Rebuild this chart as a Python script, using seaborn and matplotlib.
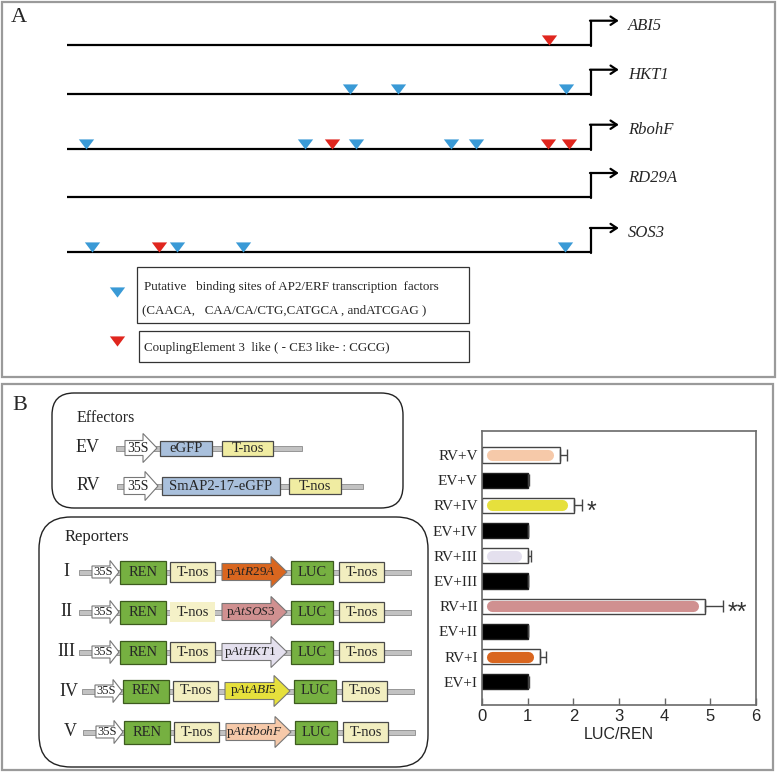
import matplotlib
matplotlib.use("Agg")

import matplotlib.pyplot as plt
from matplotlib.patches import Rectangle, FancyBboxPatch, Polygon
import numpy as np
import pandas as pd
import seaborn as sns

sns.set_style("white")
plt.rcParams["font.family"] = ["Liberation Serif", "DejaVu Serif"]
plt.rcParams["mathtext.fontset"] = "custom"
plt.rcParams["mathtext.rm"] = "Liberation Serif"
plt.rcParams["mathtext.it"] = "Liberation Serif:italic"

# --------------------------------------------------------------------------- #
# Data
# --------------------------------------------------------------------------- #
GENES = ["ABI5", "HKT1", "RbohF", "RD29A", "SOS3"]
# site positions along each promoter, as fraction of the drawn length (TSS = 1)
AP2_SITES = [[], [0.54, 0.632, 0.952], [0.036, 0.454, 0.552, 0.733, 0.78],
             [], [0.047, 0.21, 0.336, 0.95]]
CE3_SITES = [[0.92], [], [0.506, 0.918, 0.958], [], [0.175]]

EFFECTORS = ["EV", "RV"]
EFFECTOR_CDS = ["eGFP", "SmAP2-17-eGFP"]
REPORTERS = ["I", "II", "III", "IV", "V"]
REPORTER_PROMOTERS = ["AtR29A", "AtSOS3", "AtHKT1", "AtABI5", "AtRbohF"]
PROMOTER_COLORS = ["#d9661f", "#d09090", "#e4e0ee", "#e6e03c", "#f6c9a9"]

GROUPS = ["RV+V", "EV+V", "RV+IV", "EV+IV", "RV+III", "EV+III",
          "RV+II", "EV+II", "RV+I", "EV+I"]
LUC_REN = [1.70, 1.0, 2.02, 1.0, 1.0, 1.0, 4.88, 1.0, 1.26, 1.0]
LUC_REN_SD = [0.16, 0.03, 0.16, 0.0, 0.07, 0.0, 0.40, 0.0, 0.15, 0.03]
SIGNIF = ["", "", "*", "", "", "", "**", "", "", ""]

BLUE = "#3a9ad6"
RED = "#e0261e"
GREEN = "#76b041"
TNOS = "#f2eec0"
FRAME = "#9a9a9a"
TRI = [(-1.5, 1), (1.5, 1), (0, -1)]

W, H = 777, 773
fig = plt.figure(figsize=(W / 100, H / 100), dpi=100)

# overlay axes in pixel units for the layout
ov = fig.add_axes([0, 0, 1, 1])
ov.set_xlim(0, W)
ov.set_ylim(H, 0)
ov.axis("off")

ov.add_patch(Rectangle((2, 2), 773, 375, fill=False, ec=FRAME, lw=1.6))
ov.add_patch(Rectangle((2, 384), 771, 386, fill=False, ec=FRAME, lw=1.6))
ov.text(19, 17, "A", fontsize=16, ha="center", va="center")
ov.text(20, 405, "B", fontsize=16, ha="center", va="center")

# --------------------------------------------------------------------------- #
# Panel A: promoter maps
# --------------------------------------------------------------------------- #
axA = fig.add_axes([0, 1 - 377 / H, 1, 377 / H])
axA.set_xlim(-67 / 524, 710 / 524)
axA.set_ylim(377, 0)
axA.axis("off")
ROW_Y = [44.7, 93.7, 148.7, 197, 252]

for gene, y, ap2, ce3 in zip(GENES, ROW_Y, AP2_SITES, CE3_SITES):
    axA.plot([0, 1], [y, y], color="black", lw=1.6, solid_capstyle="butt")
    axA.plot([1, 1], [y + 0.8, y - 24], color="black", lw=1.6)
    axA.annotate("", xy=(1.053, y - 24), xytext=(0.998, y - 24),
                 arrowprops=dict(arrowstyle="->,head_length=0.45,head_width=0.3",
                                 lw=1.6, color="black", shrinkA=0, shrinkB=0))
    axA.text(1.07, y - 19, gene, fontstyle="italic", fontsize=12, va="center")
    if ap2:
        axA.scatter(ap2, [y - 5] * len(ap2), marker=TRI, s=11 ** 2,
                    color=BLUE, linewidths=0, zorder=3)
    if ce3:
        axA.scatter(ce3, [y - 5] * len(ce3), marker=TRI, s=11 ** 2,
                    color=RED, linewidths=0, zorder=3)

# legend boxes
ov.add_patch(Rectangle((137, 267), 332, 56, fill=False, ec="#333", lw=0.9))
ov.add_patch(Rectangle((139, 331), 330, 31, fill=False, ec="#333", lw=0.9))
ov.scatter([117], [292], marker=TRI, s=11 ** 2, color=BLUE, linewidths=0)
ov.scatter([117], [341], marker=TRI, s=11 ** 2, color=RED, linewidths=0)
ov.text(144, 287, "Putative   binding sites of AP2/ERF transcription  factors",
        fontsize=9.4, va="center")
ov.text(142, 310, "(CAACA,   CAA/CA/CTG,CATGCA , andATCGAG )",
        fontsize=9.4, va="center")
ov.text(144, 348, "CouplingElement 3  like ( - CE3 like- : CGCG)",
        fontsize=9.4, va="center")


# --------------------------------------------------------------------------- #
# Panel B: constructs
# --------------------------------------------------------------------------- #
def backbone(x0, x1, y, h=5):
    ov.add_patch(Rectangle((x0, y - h / 2), x1 - x0, h, fc="#c2c2c2",
                           ec="#8a8a8a", lw=0.6, zorder=1))


def block(x0, x1, y, h, fc, label, fs, ec="#4a4a4a", lw=0.9):
    ov.add_patch(Rectangle((x0, y - h / 2), x1 - x0, h, fc=fc, ec=ec, lw=lw,
                           zorder=2))
    ov.text((x0 + x1) / 2, y, label, ha="center", va="center", fontsize=fs,
            zorder=3)


def arrow_block(x0, x1, y, body_h, head_h, head_len, fc, label, fs,
                ec="#777777"):
    xs = x1 - head_len
    verts = [(x0, y - body_h / 2), (xs, y - body_h / 2), (xs, y - head_h / 2),
             (x1, y), (xs, y + head_h / 2), (xs, y + body_h / 2),
             (x0, y + body_h / 2)]
    ov.add_patch(Polygon(verts, closed=True, fc=fc, ec=ec, lw=0.8, zorder=2))
    ov.text((x0 + x1) / 2 - head_len * 0.25, y, label, ha="center",
            va="center", fontsize=fs, color="#222", zorder=3)


ov.add_patch(FancyBboxPatch((52, 393), 351, 115,
                            boxstyle="round,pad=0,rounding_size=22",
                            fill=False, ec="#222", lw=1.0))
ov.add_patch(FancyBboxPatch((39, 517), 389, 250,
                            boxstyle="round,pad=0,rounding_size=32",
                            fill=False, ec="#222", lw=1.0))
ov.text(77, 418, "Effectors", fontsize=11.5, va="center")
ov.text(65, 537, "Reporters", fontsize=12, va="center")

# effectors
ov.text(100, 448, EFFECTORS[0], fontsize=13, ha="right", va="center")
backbone(116, 302, 448)
arrow_block(125, 157, 448, 15, 29, 14, "white", "35S", 10)
block(160, 212, 448, 15, "#a9c0dc", EFFECTOR_CDS[0], 10.5)
block(222, 273, 448, 15, "#f0eca2", "T-nos", 10.5)

ov.text(100, 486, EFFECTORS[1], fontsize=13, ha="right", va="center")
backbone(117, 363, 486)
arrow_block(124, 158, 486, 17, 29, 13, "white", "35S", 10)
block(162, 280, 486, 18, "#a9c0dc", EFFECTOR_CDS[1], 10.5)
block(289, 341, 486, 16, "#f0eca2", "T-nos", 10.5)

# reporters
REP_Y = [572, 612, 652, 691, 732]
REP_DX = [0, 0, 0, 3, 4]
for i, (name, prom, col, y, dx) in enumerate(
        zip(REPORTERS, REPORTER_PROMOTERS, PROMOTER_COLORS, REP_Y, REP_DX)):
    ov.text(66 + dx, y, name, fontsize=13, ha="center", va="center")
    backbone(79 + dx, 411 + dx, y)
    arrow_block(92 + dx, 119 + dx, y, 12, 23, 9, "white", "35S", 9)
    block(120 + dx, 166 + dx, y, 23, GREEN, "REN", 10.5, ec="#3d5a1f")
    if name == "II":
        block(170 + dx, 215 + dx, y, 20, "#f5f1c8", "T-nos", 10.5, ec="none")
    else:
        block(170 + dx, 215 + dx, y, 20, TNOS, "T-nos", 10.5)
    arrow_block(222 + dx, 287 + dx, y, 17, 31, 16, col,
                r"p$\mathit{" + prom + "}$", 9.5)
    block(291 + dx, 333 + dx, y, 23, GREEN, "LUC", 10.5, ec="#3d5a1f")
    block(339 + dx, 384 + dx, y, 20, TNOS, "T-nos", 10.5)

# --------------------------------------------------------------------------- #
# Panel B: dual-luciferase bars
# --------------------------------------------------------------------------- #
axB = fig.add_axes([482 / W, 68 / H, 274 / W, 274 / H])
df = pd.DataFrame({"group": GROUPS, "LUC/REN": LUC_REN})
sns.barplot(data=df, x="LUC/REN", y="group", order=GROUPS, orient="h",
            color="white", width=0.6, edgecolor="#444", linewidth=1.0,
            errorbar=None, ax=axB)

px_per_x = 274 / 6
for p, g in zip(axB.patches, GROUPS):
    if g.startswith("EV"):
        p.set_facecolor("black")
        p.set_edgecolor("#222")
    else:
        col = PROMOTER_COLORS[REPORTERS.index(g.split("+")[1])]
        x0, w = p.get_x(), p.get_width()
        yc = p.get_y() + p.get_height() / 2
        axB.plot([x0 + 10.5 / px_per_x, x0 + w - 12 / px_per_x], [yc, yc],
                 color=col, lw=8, solid_capstyle="round", zorder=3)

axB.errorbar(LUC_REN, np.arange(len(GROUPS)),
             xerr=[np.zeros(len(GROUPS)), LUC_REN_SD], fmt="none",
             ecolor="#444", elinewidth=1.0, capsize=4, capthick=1.0, zorder=4)
for i, (v, sd, s) in enumerate(zip(LUC_REN, LUC_REN_SD, SIGNIF)):
    if s:
        axB.text(v + sd + 0.1, i + 0.25, s, ha="left", va="center",
                 fontsize=18, family="Liberation Sans", color="#333")

axB.set_xlim(0, 6)
axB.set_ylim(9.92, -0.95)
axB.set_xticks(range(7))
axB.set_xticklabels([str(t) for t in range(7)], family="Liberation Sans",
                    fontsize=12)
axB.set_xlabel("LUC/REN", family="Liberation Sans", fontsize=11.5, labelpad=2)
axB.set_ylabel("")
axB.tick_params(axis="x", direction="in", length=5, width=1,
                color="#666", pad=3, bottom=True)
axB.tick_params(axis="y", length=0, labelsize=11, pad=3)
for sp in axB.spines.values():
    sp.set_visible(True)
    sp.set_color("#6a6a6a")
    sp.set_linewidth(1.2)

fig.savefig("out.png", dpi=100)
